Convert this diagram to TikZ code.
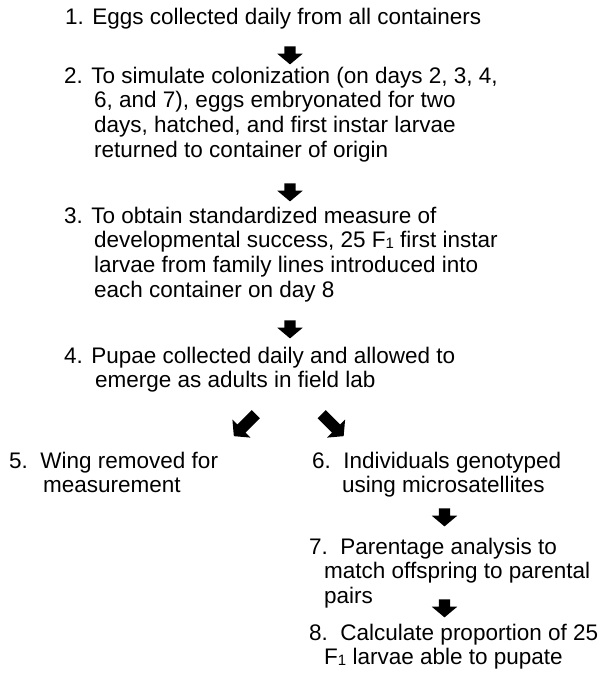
\documentclass[tikz,border=0pt]{standalone}
\usepackage{fontspec}
\setmainfont{Liberation Sans}
\usetikzlibrary{shapes.arrows}
% small index one as printed in the figure
\newcommand{\Fone}{F\raisebox{-0.5pt}{\fontsize{15}{15}\selectfont 1}}
\tikzset{
  stage/.style={anchor=base west, align=left, inner sep=0pt,
    font=\fontsize{22.5}{24.8}\selectfont},
  bigarrow/.style={single arrow, fill=black, draw=none, inner sep=5.5pt,
    minimum width=25pt, minimum height=18pt, single arrow head extend=7pt,
    single arrow tip angle=100},
}
\begin{document}
\begin{tikzpicture}[x=1pt,y=-1pt]
    \useasboundingbox (0,0) rectangle (603,682);
    % main column (nodes sit on the baseline of their last line)
    \node[stage] (s1) at (65,25) {1. Eggs collected daily from all containers};
    \node[stage] (s2) at (64,157.4) {2. To simulate colonization (on days 2, 3, 4,\\\hspace*{30pt}6, and 7), eggs embryonated for two\\\hspace*{30pt}days, hatched, and first instar larvae\\\hspace*{30pt}returned to container of origin};
    \node[stage] (s3) at (64,297.4) {3. To obtain standardized measure of\\\hspace*{30pt}developmental success, 25 \Fone{} first instar\\\hspace*{30pt}larvae from family lines introduced into\\\hspace*{30pt}each container on day 8};
    \node[stage] (s4) at (64,387.8) {4. Pupae collected daily and allowed to\\\hspace*{31pt}emerge as adults in field lab};
    \node[bigarrow,rotate=270] (a1) at (290,53) {};
    \node[bigarrow,rotate=270] (a2) at (290,190) {};
    \node[bigarrow,rotate=270] (a3) at (290,327) {};
    % split
    \node[bigarrow,rotate=225,minimum height=31pt] (a4) at (246.5,423.5) {};
    \node[bigarrow,rotate=315,minimum height=31pt] (a5) at (331,423.5) {};
    \node[stage] (s5) at (9,492.8) {5.\ \ Wing removed for\\\hspace*{34pt}measurement};
    \node[stage] (s6) at (312,492.8) {6.\ \ Individuals genotyped\\\hspace*{30pt}using microsatellites};
    \node[stage] (s7) at (309,603.6) {7.\ \ Parentage analysis to\\\hspace*{15pt}match offspring to parental\\\hspace*{15pt}pairs};
    \node[stage] (s8) at (309,664.8) {8.\ \ Calculate proportion of 25\\\hspace*{15pt}\Fone{} larvae able to pupate};
    \node[bigarrow,rotate=270] (a6) at (444.5,515) {};
    \node[bigarrow,rotate=270] (a7) at (444.5,606) {};
\end{tikzpicture}
\end{document}
